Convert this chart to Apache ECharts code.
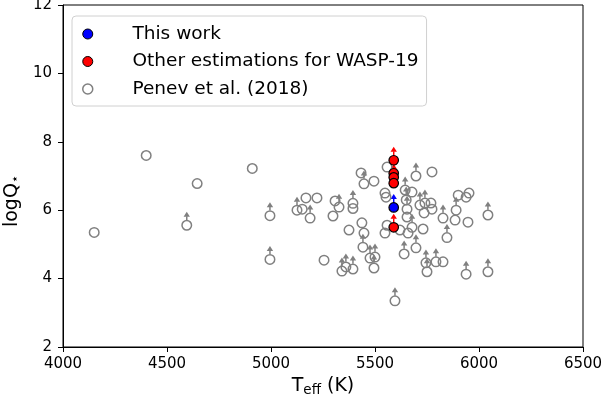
<!DOCTYPE html>
<html>
<head>
<meta charset="utf-8">
<script src="https://cdn.jsdelivr.net/npm/echarts@6/dist/echarts.min.js"></script>
<style>
  html, body { margin: 0; padding: 0; background: #fff; }
  #main { width: 602px; height: 401px; }
</style>
</head>
<body>
<div id="main"></div>
<script>
// axis ranges / ticks
var xTicks = [4000, 4500, 5000, 5500, 6000, 6500];
var yTicks = [2, 4, 6, 8, 10, 12];

// this work (lower limit)
var thisWorkTeff = [5590];
var thisWorkLogQ = [6.08];

// other estimations for WASP-19 (lower limits)
var otherTeff = [5590, 5590, 5590, 5590, 5590];
var otherLogQ = [7.46, 7.08, 6.96, 6.79, 5.5];

// Penev et al. (2018); limit = 1 means lower limit (arrow)
var penevTeff = [4150, 4400, 4595, 4645, 4910, 4995, 4995, 5125, 5150, 5168,
  5188, 5221, 5255, 5298, 5308, 5327, 5394, 5394, 5375, 5437,
  5447, 5433, 5447, 5495, 5442, 5341, 5360, 5394, 5476, 5500,
  5495, 5596, 5548, 5553, 5558, 5558, 5548, 5620, 5645, 5678,
  5650, 5654, 5654, 5678, 5659, 5736, 5731, 5697, 5774, 5716,
  5740, 5769, 5774, 5827, 5890, 5885, 5900, 5938, 5952, 5947,
  6043, 5846, 5640, 5697, 5745, 5750, 5793, 5827, 5938, 6043];
var penevLogQ = [5.35, 7.6, 5.56, 6.78, 7.22, 5.84, 4.56, 6.0, 6.03, 6.36,
  5.77, 6.36, 4.54, 5.83, 6.27, 6.09, 6.2, 6.05, 5.42, 5.63,
  5.33, 7.09, 6.77, 6.85, 4.92, 4.22, 4.34, 4.28, 4.6, 4.63,
  4.31, 3.35, 6.5, 6.38, 7.26, 5.56, 5.33, 5.42, 6.59, 6.53,
  6.3, 6.03, 5.8, 5.5, 5.33, 5.92, 5.45, 7.0, 7.12, 6.15,
  6.21, 6.21, 6.03, 5.77, 6.0, 5.71, 6.44, 6.38, 6.5, 5.65,
  5.86, 5.2, 4.72, 4.9, 4.46, 4.2, 4.49, 4.49, 4.13, 4.2];
var penevLimit = [0, 0, 1, 0, 0, 1, 1, 1, 0, 0,
  1, 0, 0, 0, 0, 1, 1, 0, 0, 0,
  0, 0, 1, 0, 1, 1, 1, 1, 1, 1,
  1, 1, 0, 0, 0, 0, 0, 0, 1, 0,
  1, 1, 0, 1, 0, 0, 0, 1, 0, 1,
  1, 0, 0, 1, 1, 0, 0, 0, 0, 0,
  1, 1, 1, 1, 1, 1, 1, 0, 1, 1];

var arrowLen = 0.35;

function zip(xs, ys) {
  return xs.map(function (x, i) { return [x, ys[i]]; });
}

var penevPts = zip(penevTeff, penevLogQ);
var penevLimPts = penevPts.filter(function (p, i) { return penevLimit[i] === 1; });
var otherPts = zip(otherTeff, otherLogQ);
var thisPts = zip(thisWorkTeff, thisWorkLogQ);

function arrowSeries(id, pts, color, start) {
  return {
    type: 'custom',
    id: id,
    silent: true,
    z: 1,
    data: pts,
    renderItem: function (params, api) {
      var p = api.coord([api.value(0), api.value(1)]);
      var t = api.coord([api.value(0), api.value(1) + arrowLen]);
      return {
        type: 'group',
        children: [
          { type: 'line', shape: { x1: p[0], y1: p[1] - start, x2: t[0], y2: t[1] + 3 },
            style: { stroke: color, lineWidth: 1.5 } },
          { type: 'polygon', shape: { points: [[t[0], t[1] - 1.5], [t[0] - 3.2, t[1] + 3.5], [t[0] + 3.2, t[1] + 3.5]] },
            style: { fill: color } }
        ]
      };
    }
  };
}

var myChart = echarts.init(document.getElementById('main'));
var font = 'DejaVu Sans';
var option = {
  animation: false,
  textStyle: { fontFamily: font },
  grid: {
    left: 63, right: 19, top: 5, bottom: 54,
    outerBoundsMode: 'none',
    show: true, borderColor: '#000', borderWidth: 1
  },
  legend: {
    orient: 'vertical',
    left: 72,
    top: 16,
    padding: [7, 8, 6, 10],
    itemWidth: 30,
    itemHeight: 10,
    itemGap: 5.5,
    borderColor: '#d0d0d0',
    borderWidth: 1,
    borderRadius: 4,
    backgroundColor: 'rgba(255,255,255,0.8)',
    formatter: function (name) { return '\u2002  \u2009' + name; },
    textStyle: { fontFamily: font, fontSize: 18.5, color: '#000', lineHeight: 22 },
    data: [
      { name: 'This work', icon: 'circle', itemStyle: { color: '#0000ff', borderColor: '#000', borderWidth: 1 } },
      { name: 'Other estimations for WASP-19', icon: 'circle', itemStyle: { color: '#ff0000', borderColor: '#000', borderWidth: 1 } },
      { name: 'Penev et al. (2018)', icon: 'circle', itemStyle: { color: '#fff', borderColor: '#808080', borderWidth: 1.5 } }
    ]
  },
  xAxis: {
    type: 'value',
    min: xTicks[0],
    max: xTicks[xTicks.length - 1],
    interval: 500,
    axisLine: { show: true, lineStyle: { color: '#000', width: 1 } },
    axisTick: { show: true, inside: false, length: 5, lineStyle: { color: '#000' } },
    axisLabel: { color: '#000', fontSize: 15, margin: 10, fontFamily: font, formatter: function (v) { return String(v); } },
    splitLine: { show: false },
    name: '{a|T}{s|eff}{a| (K)}',
    nameLocation: 'middle',
    nameGap: 30,
    nameTextStyle: {
      rich: {
        a: { fontFamily: font, fontSize: 19, color: '#000', verticalAlign: 'top', lineHeight: 22 },
        s: { fontFamily: font, fontSize: 13.5, color: '#000', verticalAlign: 'top', lineHeight: 22, padding: [6, 0, 0, 0] }
      }
    }
  },
  yAxis: {
    type: 'value',
    min: yTicks[0],
    max: yTicks[yTicks.length - 1],
    interval: 2,
    axisLine: { show: true, lineStyle: { color: '#000', width: 1 } },
    axisTick: { show: true, inside: false, length: 5, lineStyle: { color: '#000' } },
    axisLabel: { color: '#000', fontSize: 15, margin: 11, fontFamily: font },
    splitLine: { show: false },
    name: '{a|logQ}{s|⋆}',
    nameLocation: 'middle',
    nameGap: 36,
    nameTextStyle: {
      padding: [0, 50, 0, 0],
      rich: {
        a: { fontFamily: font, fontSize: 19, color: '#000', verticalAlign: 'top', lineHeight: 22 },
        s: { fontFamily: font, fontSize: 13, color: '#000', verticalAlign: 'top', lineHeight: 22, padding: [6, 0, 0, 0] }
      }
    }
  },
  series: [
    arrowSeries('penevArrows', penevLimPts, '#808080', 5.2),
    {
      type: 'scatter',
      name: 'Penev et al. (2018)',
      data: penevPts,
      symbol: 'circle',
      symbolSize: 9.5,
      z: 2,
      itemStyle: { color: 'rgba(255,255,255,0)', borderColor: '#808080', borderWidth: 1.5, opacity: 1 }
    },
    arrowSeries('otherArrows', otherPts, '#ff0000', 0),
    {
      type: 'scatter',
      name: 'Other estimations for WASP-19',
      data: otherPts,
      symbol: 'circle',
      symbolSize: 9.5,
      z: 4,
      itemStyle: { color: '#ff0000', borderColor: '#000', borderWidth: 1.2, opacity: 1 }
    },
    arrowSeries('thisArrows', thisPts, '#0000ff', 0),
    {
      type: 'scatter',
      name: 'This work',
      data: thisPts,
      symbol: 'circle',
      symbolSize: 9.5,
      z: 4,
      itemStyle: { color: '#0000ff', borderColor: '#000', borderWidth: 1.2, opacity: 1 }
    }
  ]
};
myChart.setOption(option);
</script>
</body>
</html>
